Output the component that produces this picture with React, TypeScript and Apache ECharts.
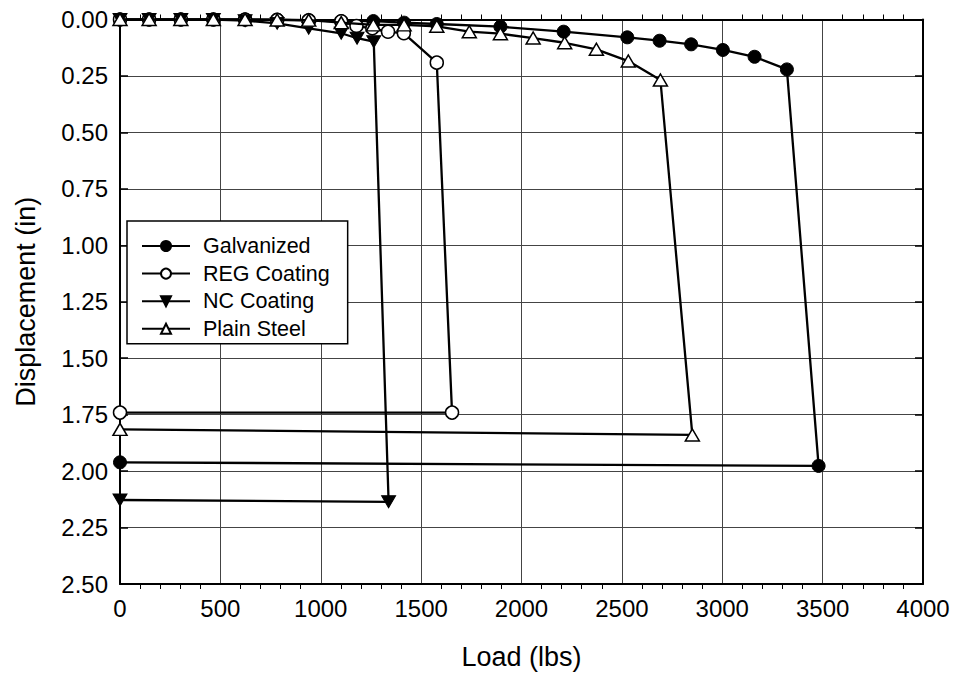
import React, { useEffect, useRef } from "react";
import * as echarts from "echarts";

// ---- Data ----
const galvanizedLoad = [0, 145, 303, 465, 623, 783, 940, 1102, 1262, 1415, 1578, 1895, 2210, 2527, 2688, 2845, 3003, 3161, 3322, 3480, 0];
const galvanizedDisp = [0, 0, 0, 0, 0, 0, 0.003, 0.007, 0.007, 0.014, 0.02, 0.032, 0.054, 0.079, 0.094, 0.11, 0.135, 0.165, 0.221, 1.977, 1.961];

const regLoad = [0, 145, 303, 465, 623, 783, 940, 1102, 1178, 1257, 1335, 1414, 1578, 1654, 0];
const regDisp = [0, 0, 0, 0, 0, 0.002, 0.004, 0.008, 0.029, 0.039, 0.054, 0.061, 0.191, 1.741, 1.741];

const ncLoad = [0, 145, 303, 465, 623, 783, 940, 1102, 1181, 1264, 1338, 0];
const ncDisp = [0, 0, 0, 0, 0.005, 0.017, 0.039, 0.061, 0.083, 0.098, 2.136, 2.128];

const plainLoad = [0, 145, 303, 465, 623, 783, 940, 1102, 1262, 1415, 1578, 1740, 1895, 2058, 2215, 2373, 2532, 2692, 2851, 0];
const plainDisp = [0, 0, 0, 0, 0, 0.002, 0.003, 0.014, 0.024, 0.024, 0.03, 0.054, 0.063, 0.082, 0.103, 0.132, 0.184, 0.268, 1.84, 1.815];

const seriesNames = ["Galvanized", "REG Coating", "NC Coating", "Plain Steel"];

const FONT = "'Liberation Sans', Arial, Helvetica, sans-serif";

function pairs(xs: number[], ys: number[]) {
  return xs.map((x, i) => [x, ys[i]]);
}

export default function App() {
  const ref = useRef<HTMLDivElement>(null);

  useEffect(() => {
    if (!ref.current) return;
    const chart = echarts.init(ref.current, undefined, { renderer: "svg" });

    const lineStyle = { color: "#000", width: 2.3 };
    const common = {
      type: "line" as const,
      xAxisIndex: 0,
      yAxisIndex: 0,
      lineStyle,
      showAllSymbol: true,
      emphasis: { disabled: true },
    };

    chart.setOption({
      animation: false,
      textStyle: { fontFamily: FONT, color: "#000" },
      grid: { left: 120, top: 19.5, right: 33, bottom: 93, containLabel: false },
      legend: {
        orient: "vertical",
        left: 127,
        top: 221,
        data: seriesNames,
        itemWidth: 48,
        itemHeight: 12.5,
        itemGap: 5.6,
        padding: [14, 18, 4, 14],
        borderColor: "#000",
        borderWidth: 1.5,
        backgroundColor: "#fff",
        textStyle: { fontSize: 21.5, fontFamily: FONT, color: "#000", padding: [0, 0, 0, 8] },
        selectedMode: false,
      },
      xAxis: [
        {
          type: "value",
          min: 0,
          max: 4000,
          interval: 500,
          position: "bottom",
          name: "Load (lbs)",
          nameLocation: "middle",
          nameGap: 59,
          nameTextStyle: { fontSize: 27, fontFamily: FONT, color: "#000" },
          axisLine: { show: true, onZero: false, lineStyle: { color: "#000", width: 2 } },
          axisTick: { show: false },
          minorTick: { show: true, splitNumber: 5, length: 5, lineStyle: { color: "#000", width: 1 } },
          axisLabel: {
            fontSize: 24,
            fontFamily: FONT,
            color: "#000",
            margin: 12,
            formatter: (v: number) => String(v),
          },
          splitLine: { show: true, lineStyle: { color: "#444", width: 1 } },
        },
        {
          type: "value",
          min: 0,
          max: 4000,
          interval: 500,
          position: "top",
          axisLine: { show: true, onZero: false, lineStyle: { color: "#000", width: 2 } },
          axisTick: { show: false },
          minorTick: { show: true, splitNumber: 5, length: 5, lineStyle: { color: "#000", width: 1 } },
          axisLabel: { show: false },
          splitLine: { show: false },
        },
      ],
      yAxis: [
        {
          type: "value",
          min: 0,
          max: 2.5,
          interval: 0.25,
          inverse: true,
          position: "left",
          name: "Displacement (in)",
          nameLocation: "middle",
          nameGap: 81,
          nameTextStyle: { fontSize: 27, fontFamily: FONT, color: "#000" },
          axisLine: { show: true, onZero: false, lineStyle: { color: "#000", width: 2 } },
          axisTick: { show: true, inside: true, length: 8, lineStyle: { color: "#000", width: 1.5 } },
          axisLabel: {
            fontSize: 24,
            fontFamily: FONT,
            color: "#000",
            margin: 12,
            formatter: (v: number) => v.toFixed(2),
          },
          splitLine: { show: true, lineStyle: { color: "#444", width: 1 } },
        },
        {
          type: "value",
          min: 0,
          max: 2.5,
          interval: 0.25,
          inverse: true,
          position: "right",
          axisLine: { show: true, onZero: false, lineStyle: { color: "#000", width: 2 } },
          axisTick: { show: true, inside: true, length: 8, lineStyle: { color: "#000", width: 1.5 } },
          axisLabel: { show: false },
          splitLine: { show: false },
        },
      ],
      series: [
        {
          ...common,
          name: seriesNames[0],
          data: pairs(galvanizedLoad, galvanizedDisp),
          symbol: "circle",
          symbolSize: 13,
          itemStyle: { color: "#000", borderColor: "#000", borderWidth: 1 },
          z: 2,
        },
        {
          ...common,
          name: seriesNames[1],
          data: pairs(regLoad, regDisp),
          symbol: "circle",
          symbolSize: 13,
          itemStyle: { color: "#fff", borderColor: "#000", borderWidth: 1.5 },
          z: 3,
        },
        {
          ...common,
          name: seriesNames[2],
          data: pairs(ncLoad, ncDisp),
          symbol: "triangle",
          symbolRotate: 180,
          symbolSize: [14, 12],
          itemStyle: { color: "#000", borderColor: "#000", borderWidth: 1 },
          z: 4,
        },
        {
          ...common,
          name: seriesNames[3],
          data: pairs(plainLoad, plainDisp),
          symbol: "triangle",
          symbolSize: [14, 12],
          itemStyle: { color: "#fff", borderColor: "#000", borderWidth: 1.5 },
          z: 5,
        },
      ],
    });

    return () => chart.dispose();
  }, []);

  return (
    <div
      ref={ref}
      style={{ position: "fixed", left: 0, top: 0, width: 956, height: 677, background: "#fff" }}
    />
  );
}
